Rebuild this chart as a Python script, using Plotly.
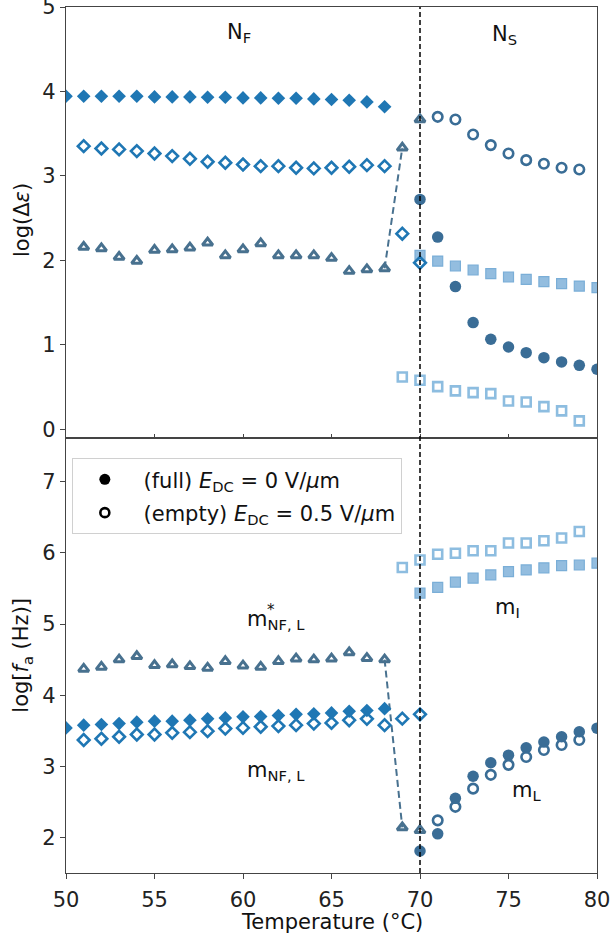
import plotly.graph_objects as go

# ---------------- data ----------------
T_TRANS = 70
T_full_NF = list(range(50, 69))          # 50..68
T_empty_NF = list(range(51, 71))         # 51..70
T_tri = list(range(51, 71))              # 51..70
T_full_NS = list(range(70, 81))          # 70..80
T_empty_circ = list(range(71, 80))       # 71..79
T_empty_sq = list(range(69, 80))         # 69..79

# top panel: log(Delta eps)
de_diam_full = [3.944, 3.944, 3.944, 3.944, 3.944, 3.936, 3.936, 3.936, 3.932, 3.932,
                3.924, 3.924, 3.920, 3.920, 3.912, 3.905, 3.897, 3.877, 3.82]
de_diam_empty = [3.353, 3.325, 3.314, 3.294, 3.266, 3.235, 3.203, 3.168, 3.156, 3.136,
                 3.116, 3.116, 3.097, 3.089, 3.097, 3.109, 3.128, 3.116, 2.316, 1.972]
de_tri = [2.158, 2.142, 2.04, 1.992, 2.122, 2.130, 2.150, 2.209, 2.059, 2.13,
          2.201, 2.059, 2.059, 2.059, 2.027, 1.873, 1.893, 1.905, 3.333, 3.669]
de_circ_full = [2.722, 2.276, 1.689, 1.263, 1.065, 0.974, 0.907, 0.848, 0.797, 0.757, 0.71]
de_circ_empty = [3.70, 3.669, 3.491, 3.365, 3.266, 3.187, 3.144, 3.097, 3.077]
de_sq_full = [2.059, 1.992, 1.933, 1.886, 1.842, 1.803, 1.775, 1.748, 1.724, 1.696, 1.676]
de_sq_empty = [0.619, 0.580, 0.505, 0.454, 0.434, 0.422, 0.335, 0.323, 0.268, 0.217, 0.099]

# bottom panel: log(f_a)
fa_diam_full = [3.54, 3.578, 3.588, 3.60, 3.62, 3.634, 3.634, 3.648, 3.667, 3.68,
                3.695, 3.70, 3.714, 3.73, 3.738, 3.75, 3.774, 3.784, 3.81]
fa_diam_empty = [3.37, 3.387, 3.415, 3.447, 3.447, 3.47, 3.48, 3.494, 3.53, 3.54,
                 3.556, 3.565, 3.578, 3.60, 3.61, 3.648, 3.667, 3.578, 3.67, 3.73]
fa_tri = [4.369, 4.397, 4.50, 4.546, 4.42, 4.43, 4.405, 4.383, 4.476, 4.415,
          4.397, 4.476, 4.513, 4.50, 4.513, 4.60, 4.52, 4.50, 2.14, 2.10]
fa_circ_full = [1.81, 2.05, 2.55, 2.86, 3.05, 3.157, 3.26, 3.34, 3.415, 3.485, 3.536]
fa_circ_empty = [2.24, 2.43, 2.686, 2.88, 3.02, 3.13, 3.23, 3.30, 3.37]
fa_sq_full = [5.435, 5.514, 5.589, 5.645, 5.69, 5.738, 5.76, 5.79, 5.82, 5.83, 5.855]
fa_sq_empty = [5.794, 5.90, 5.98, 5.996, 6.03, 6.03, 6.14, 6.14, 6.17, 6.21, 6.30]

x_ticks = [50, 55, 60, 65, 70, 75, 80]
top_ticks = [0, 1, 2, 3, 4, 5]
bot_ticks = [2, 3, 4, 5, 6, 7]

legend_labels = ["\u00a0(full) <i>E</i><sub>DC</sub> = 0 V/<i>μ</i>m",
                 "\u00a0(empty) <i>E</i><sub>DC</sub> = 0.5 V/<i>μ</i>m"]

# ---------------- style ----------------
C_DIAM = "#1f77b4"
C_TRI = "#48718f"
C_CIRC = "#3a6d96"
C_SQ = "#7aaed7"
C_SQ_FILL = "rgba(128,178,217,0.85)"
C_SQ_OPEN = "#8dbde0"
FONT = "DejaVu Sans"
FS = 21

fig = go.Figure()


def add_panel(yaxis, d_full, d_empty, tri, c_full, c_empty, s_full, s_empty):
    xa = "x" if yaxis == "y" else "x2"
    fig.add_trace(go.Scatter(x=T_empty_sq, y=s_empty, mode="markers", xaxis=xa, yaxis=yaxis,
                             marker=dict(symbol="square-open", size=9, color=C_SQ_OPEN,
                                         line=dict(width=2.6)), showlegend=False))
    fig.add_trace(go.Scatter(x=T_full_NS, y=s_full, mode="markers", xaxis=xa, yaxis=yaxis,
                             marker=dict(symbol="square", size=10, color=C_SQ_FILL,
                                         line=dict(width=1.2, color=C_SQ)), showlegend=False))
    fig.add_trace(go.Scatter(x=T_tri[17:19], y=tri[17:19], mode="lines", xaxis=xa, yaxis=yaxis,
                             line=dict(color=C_TRI, width=2, dash="7px,4px"), showlegend=False))
    fig.add_trace(go.Scatter(x=T_tri, y=tri, mode="markers", xaxis=xa, yaxis=yaxis,
                             marker=dict(symbol="triangle-up-open", size=9, color=C_TRI,
                                         line=dict(width=3)), showlegend=False))
    fig.add_trace(go.Scatter(x=T_full_NS, y=c_full, mode="markers", xaxis=xa, yaxis=yaxis,
                             marker=dict(symbol="circle", size=11.5, color=C_CIRC,
                                         line=dict(width=0)), showlegend=False))
    fig.add_trace(go.Scatter(x=T_empty_circ, y=c_empty, mode="markers", xaxis=xa, yaxis=yaxis,
                             marker=dict(symbol="circle-open", size=9.5, color=C_CIRC,
                                         line=dict(width=2.6)), showlegend=False))
    fig.add_trace(go.Scatter(x=T_full_NF, y=d_full, mode="markers", xaxis=xa, yaxis=yaxis,
                             marker=dict(symbol="diamond", size=10.5, color=C_DIAM,
                                         line=dict(width=0)), showlegend=False))
    fig.add_trace(go.Scatter(x=T_empty_NF, y=d_empty, mode="markers", xaxis=xa, yaxis=yaxis,
                             marker=dict(symbol="diamond-open", size=9, color=C_DIAM,
                                         line=dict(width=2.6)), showlegend=False))


add_panel("y", de_diam_full, de_diam_empty, de_tri, de_circ_full, de_circ_empty,
          de_sq_full, de_sq_empty)
add_panel("y2", fa_diam_full, fa_diam_empty, fa_tri, fa_circ_full, fa_circ_empty,
          fa_sq_full, fa_sq_empty)

# legend entries
fig.add_trace(go.Scatter(x=[None], y=[None], mode="markers", xaxis="x2", yaxis="y2",
                         name=legend_labels[0], legendgroup="full",
                         marker=dict(symbol="circle", size=11, color="black")))
fig.add_trace(go.Scatter(x=[None], y=[None], mode="markers", xaxis="x2", yaxis="y2",
                         name=legend_labels[1], legendgroup="empty",
                         marker=dict(symbol="circle-open", size=9, color="black",
                                     line=dict(width=2.6))))

SPLIT = 0.5027
axis_common = dict(showline=True, linecolor="#444", linewidth=1.3, mirror=True,
                   showgrid=False, zeroline=False, tickcolor="#444", tickwidth=1.2,
                   automargin=False, ticklabeloverflow="allow",
                   tickfont=dict(family=FONT, size=FS, color="#222"))

fig.update_layout(
    width=613, height=937,
    margin=dict(l=66, r=16, t=7, b=64),
    plot_bgcolor="white", paper_bgcolor="white",
    font=dict(family=FONT, size=FS, color="#222"),
    xaxis=dict(range=[50, 80], anchor="y", tickvals=x_ticks, showticklabels=False,
               ticks="inside", ticklen=4, **axis_common),
    yaxis=dict(range=[-0.1, 5.001], domain=[SPLIT, 1], anchor="x", tickvals=top_ticks,
               ticks="outside", ticklen=5, **axis_common),
    xaxis2=dict(range=[50, 80], anchor="y2", tickvals=x_ticks, ticks="outside", ticklen=5,
                ticklabelstandoff=3, **axis_common),
    yaxis2=dict(range=[1.5, 7.62], domain=[0, SPLIT], anchor="x2", tickvals=bot_ticks,
                ticks="outside", ticklen=5, **axis_common),
    legend=dict(x=0.011, y=0.479, xanchor="left", yanchor="top",
                bgcolor="white", bordercolor="#d0d0d0", borderwidth=1,
                tracegroupgap=3,
                font=dict(family=FONT, size=FS, color="#111"), itemwidth=54),
    showlegend=True,
)

fig.add_shape(type="line", xref="x", yref="paper", x0=T_TRANS, x1=T_TRANS, y0=0, y1=1,
              line=dict(color="black", width=1.5, dash="5px,3px"), layer="above")

ann = [
    dict(text="Temperature (°C)", xref="paper", yref="paper", x=0.5, y=-0.057),
    dict(text="log(Δ<i>ε</i>)", xref="paper", yref="paper", x=-0.083, y=0.754, textangle=-90),
    dict(text="log[<i>f</i><sub>a</sub> (Hz)]", xref="paper", yref="paper", x=-0.083, y=0.252,
         textangle=-90),
    dict(text="N<sub>F</sub>", xref="x", yref="y", x=59.8, y=4.69),
    dict(text="N<sub>S</sub>", xref="x", yref="y", x=74.8, y=4.67),
    dict(text="m<sub>NF, L</sub>", xref="x2", yref="y2", x=60.12, y=5.05, xanchor="left"),
    dict(text="*", xref="x2", yref="y2", x=61.22, y=5.2, xanchor="left", size=15),
    dict(text="m<sub>NF, L</sub>", xref="x2", yref="y2", x=60.12, y=2.93, xanchor="left"),
    dict(text="m<sub>I</sub>", xref="x2", yref="y2", x=74.1, y=5.23, xanchor="left"),
    dict(text="m<sub>L</sub>", xref="x2", yref="y2", x=75.09, y=2.65, xanchor="left"),
]
for a in ann:
    size = a.pop("size", FS)
    a.setdefault("xanchor", "center")
    a.setdefault("yanchor", "middle")
    a["showarrow"] = False
    a["font"] = dict(family=FONT, size=size, color="#111")
    fig.add_annotation(**a)

fig.write_html("out.html", config={"displayModeBar": False},
               post_script="document.body.style.margin='0';document.body.style.padding='0';")
